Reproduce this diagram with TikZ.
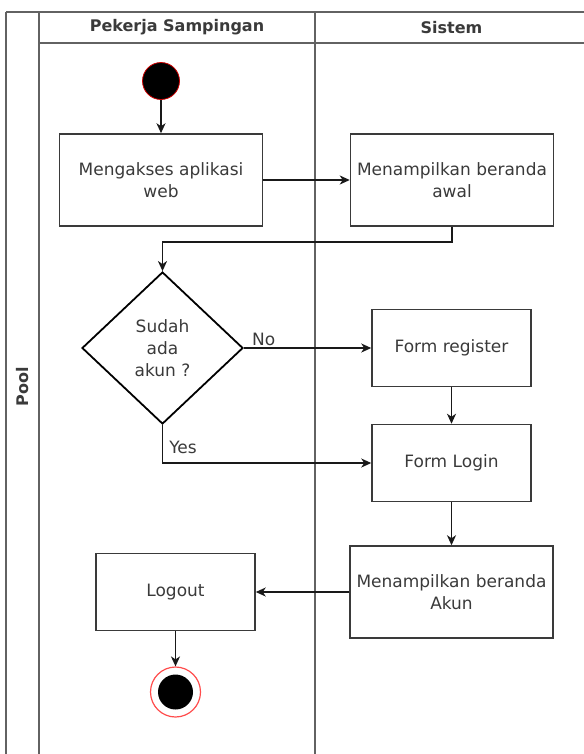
\documentclass[tikz,border=0pt]{standalone}
\usepackage{fontspec}
\setmainfont{DejaVu Sans}
\usetikzlibrary{shapes.geometric, arrows, arrows.meta, positioning}
\definecolor{linegray}{HTML}{3A3A3A}
\definecolor{lanegray}{HTML}{626262}
\tikzstyle{process} = [
  rectangle,
  minimum width=159bp,
  minimum height=77bp,
  text centered,
  align=center,
  draw=linegray,
  line width=1.5pt,
  text=linegray,
  font=\fontsize{17bp}{22bp}\selectfont
]
\tikzstyle{wideprocess} = [
  process,
  minimum width=203bp,
  minimum height=92bp
]
\tikzstyle{decision} = [
  diamond,
  minimum width=161bp,
  minimum height=152bp,
  inner sep=0pt,
  align=center,
  draw=black,
  line width=1.8pt,
  text=linegray,
  font=\fontsize{17bp}{22bp}\selectfont
]
\tikzstyle{startstate} = [
  circle,
  minimum size=37bp,
  inner sep=0pt,
  fill=black,
  draw=red!80!black,
  line width=0.8pt
]
\tikzstyle{endstate} = [
  circle,
  minimum size=50bp,
  inner sep=0pt,
  draw=red!70,
  line width=1.2pt,
  path picture={\fill[black] (path picture bounding box.center) circle (17.5bp);}
]
\tikzstyle{lane} = [draw=lanegray, line width=1.5pt]
\tikzstyle{title} = [text=linegray, font=\bfseries\fontsize{16bp}{19bp}\selectfont]
\tikzstyle{arrow} = [line width=1.6pt, ->, >={Stealth[length=10bp, width=9bp, inset=3bp]}, draw=black!90, text=linegray, font=\fontsize{17bp}{20bp}\selectfont]

\begin{document}
\begin{tikzpicture}[x=1bp, y=1bp]
    \useasboundingbox (0,0) rectangle (584,-754);

    % pool and lanes
    \draw [lane] (6,-12) -- (600,-12);
    \draw [lane] (6,-12) -- (6,-770);
    \draw [lane] (39,-12) -- (39,-770);
    \draw [lane] (39,-43) -- (600,-43);
    \draw [lane] (315,-12) -- (315,-770);
    \node (pool-title) [title, rotate=90] at (22.5,-387) {Pool};
    \node (worker-title) [title] at (177,-27.5) {Pekerja Sampingan};
    \node (system-title) [title] at (451.5,-27.5) {Sistem};

    \node (start) [startstate] at (161,-81) {};
    \node (open-web) [wideprocess, node distance=99bp, below of=start] {Mengakses aplikasi\\web};
    \node (show-home) [wideprocess, node distance=291bp, right of=open-web] {Menampilkan beranda\\awal};
    \node (has-account) [decision, node distance=168bp, below of=open-web, xshift=1.5bp] {Sudah\\ada\\akun ?};
    \node (form-register) [process, node distance=289bp, right of=has-account] {Form register};
    \node (form-login) [process, node distance=115bp, below of=form-register] {Form Login};
    \node (show-account-home) [wideprocess, node distance=129bp, below of=form-login] {Menampilkan beranda\\Akun};
    \node (logout) [process, node distance=276bp, left of=show-account-home] {Logout};
    \node (final) [endstate, node distance=100bp, below of=logout] {};

    \draw [arrow] (start) -- (open-web);
    \draw [arrow] (open-web) -- (show-home);
    \draw [arrow] (show-home.south) -- ++(0,-15) -| (has-account.north);
    \draw [arrow] (has-account) -- node[pos=0.05, anchor=south west, inner sep=1bp] {No} (form-register);
    \draw [arrow] (has-account.south) |- node[pos=0.3, anchor=west, inner sep=1bp, xshift=5bp] {Yes} (form-login.west);
    \draw [arrow] (form-register) -- (form-login);
    \draw [arrow] (form-login) -- (show-account-home);
    \draw [arrow] (show-account-home) -- (logout);
    \draw [arrow] (logout) -- (final);
\end{tikzpicture}
\end{document}
